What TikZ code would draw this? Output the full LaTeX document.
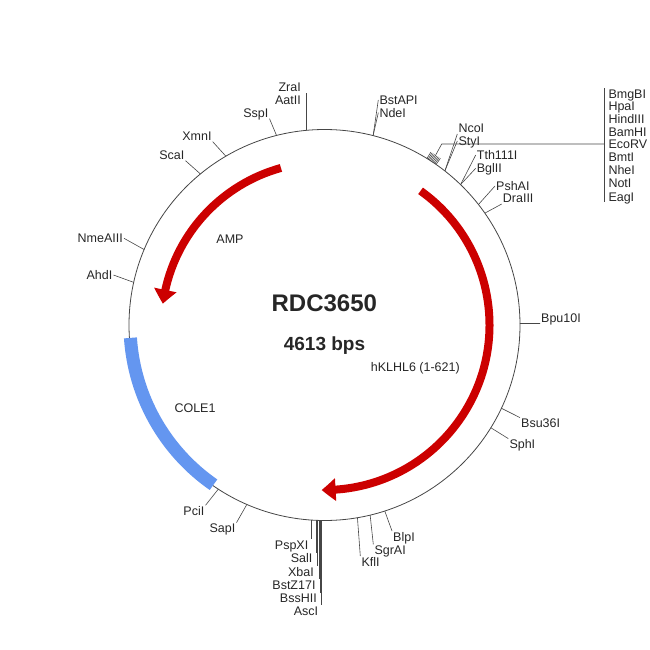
\documentclass[tikz,border=0pt]{standalone}
\usepackage{fontspec}
\setmainfont{Liberation Sans}
\usetikzlibrary{arrows.meta,bending}
\definecolor{mapline}{RGB}{70,70,70}
\definecolor{ampred}{RGB}{204,0,0}
\definecolor{oriblue}{RGB}{100,150,240}
\begin{document}
\begin{tikzpicture}[x=1pt,y=-1pt]
  \tikzstyle{every node}+=[inner sep=1pt, text=black!85, font=\fontsize{12.5}{14}\selectfont]
  \tikzstyle{lab}=[text height=9pt, text depth=0pt]
  \tikzstyle{site}=[mapline, line width=0.6pt]
  \tikzstyle{gene}=[ampred, line width=8pt, -{Triangle[width=22pt,length=14pt,bend]}]
  \useasboundingbox (0,0) rectangle (650,650);
  \coordinate (c) at (324.5,325);
  \draw [mapline, line width=0.8pt] (c) circle [radius=195.5pt];
  \draw [oriblue, line width=13pt] (c) ++(183.8:194.5pt) arc [start angle=183.8, end angle=235.2, radius=194.5pt];
  \draw [gene] (c) ++(105.5:163pt) arc [start angle=105.5, end angle=172.5, radius=163pt];
  \draw [gene] (c) ++(54.4:165pt) arc [start angle=54.4, end angle=-91, radius=165pt];
  \foreach \n/\a in {ZraI/95.2, SspI/104.2, XmnI/120.3, ScaI/129.4, NmeAIII/157.3, AhdI/167.4,
      PciI/237.1, SapI/246.6, PspXI/266.04, SalI/267.6, XbaI/268.0, BstZ17I/268.36,
      BssHII/268.74, AscI/269.12, KflI/279.7, SgrAI/283.5, BlpI/287.95, SphI/328.3,
      Bsu36I/334.8, Bpu10I/0.44, DraIII/34.9, PshAI/38.05, Tth/45.9, NcoI/52.0, NdeI/75.6}
    \path (c) ++(\a:195.5pt) coordinate (t\n);
  \path (c) ++(56.8:203pt) coordinate (tclu);
  \coordinate (hub) at (441.7,144);
  \node [anchor=base, font=\bfseries\fontsize{24}{28}\selectfont] (name) at (324.3,311.7) {RDC3650};
  \node [anchor=base, font=\bfseries\fontsize{19}{22}\selectfont] (size) at (324.5,350) {4613 bps};
  \node [lab] (amp) at (230,239) {AMP};
  \node [lab] (hklhl) at (415.3,367.3) {hKLHL6 (1-621)};
  \node [lab] (cole) at (195,408.3) {COLE1};
  \node [lab, anchor=east] (ZraI) at (302,87) {ZraI};
  \node [lab, anchor=east] (AatII) at (302,100.5) {AatII};
  \node [lab, anchor=east] (SspI) at (269.5,113) {SspI};
  \node [lab, anchor=east] (XmnI) at (212.7,136) {XmnI};
  \node [lab, anchor=east] (ScaI) at (185.5,155) {ScaI};
  \node [lab, anchor=east] (NmeAIII) at (124,238.3) {NmeAIII};
  \node [lab, anchor=east] (AhdI) at (113.5,275) {AhdI};
  \node [lab, anchor=east] (PciI) at (205.5,511) {PciI};
  \node [lab, anchor=east] (SapI) at (236.5,528.3) {SapI};
  \node [lab, anchor=east] (PspXI) at (309.5,545) {PspXI};
  \node [lab, anchor=east] (SalI) at (313.5,558.3) {SalI};
  \node [lab, anchor=east] (XbaI) at (315,571.7) {XbaI};
  \node [lab, anchor=east] (BstZ17I) at (316.7,585) {BstZ17I};
  \node [lab, anchor=east] (BssHII) at (318,598.3) {BssHII};
  \node [lab, anchor=east] (AscI) at (319.3,610.7) {AscI};
  \node [lab, anchor=west] (KflI) at (360.3,561.7) {KflI};
  \node [lab, anchor=west] (SgrAI) at (373.3,550) {SgrAI};
  \node [lab, anchor=west] (BlpI) at (392,536.7) {BlpI};
  \node [lab, anchor=west] (SphI) at (508.3,444.3) {SphI};
  \node [lab, anchor=west] (Bsu36I) at (520,423.3) {Bsu36I};
  \node [lab, anchor=south west] (Bpu10I) at (540,323.5) {Bpu10I};
  \node [lab, anchor=west] (DraIII) at (501.7,198.3) {DraIII};
  \node [lab, anchor=west] (PshAI) at (495,186) {PshAI};
  \node [lab, anchor=west] (Tth111I) at (475.7,155) {Tth111I};
  \node [lab, anchor=west] (BglII) at (475.7,168.3) {BglII};
  \node [lab, anchor=west] (NcoI) at (457.3,128.3) {NcoI};
  \node [lab, anchor=west] (StyI) at (457.3,141) {StyI};
  \node [lab, anchor=west] (BstAPI) at (378.3,100) {BstAPI};
  \node [lab, anchor=west] (NdeI) at (378.3,112.7) {NdeI};
  \node [lab, anchor=west] (BmgBI) at (607.3,94) {BmgBI};
  \node [lab, anchor=west] (HpaI) at (607.3,106) {HpaI};
  \node [lab, anchor=west] (HindIII) at (607.3,119.3) {HindIII};
  \node [lab, anchor=west] (BamHI) at (607.3,131.7) {BamHI};
  \node [lab, anchor=west] (EcoRV) at (607.3,144) {EcoRV};
  \node [lab, anchor=west] (BmtI) at (607.3,157.3) {BmtI};
  \node [lab, anchor=west] (NheI) at (607.3,170) {NheI};
  \node [lab, anchor=west] (NotI) at (607.3,183.3) {NotI};
  \node [lab, anchor=west] (EagI) at (607.3,196.7) {EagI};
  \draw [site] (tZraI) -- (tZraI |- ZraI.south);
  \draw [site] (tSspI) -- (SspI.south east);
  \draw [site] (tXmnI) -- (XmnI.south east);
  \draw [site] (tScaI) -- (ScaI.south east);
  \draw [site] (tNmeAIII) -- (NmeAIII.east);
  \draw [site] (tAhdI) -- (AhdI.east);
  \draw [site] (tPciI) -- (PciI.north east);
  \draw [site] (tSapI) -- (SapI.north east);
  \draw [site] (tPspXI) -- (tPspXI |- PspXI.north);
  \draw [site] (tSalI) -- (tSalI |- SalI.north);
  \draw [site] (tXbaI) -- (tXbaI |- XbaI.north);
  \draw [site] (tBstZ17I) -- (tBstZ17I |- BstZ17I.north);
  \draw [site] (tBssHII) -- (tBssHII |- BssHII.north);
  \draw [site] (tAscI) -- (tAscI |- AscI.north);
  \draw [site] (tKflI) -- (KflI.north west);
  \draw [site] (tSgrAI) -- (SgrAI.north west);
  \draw [site] (tBlpI) -- (BlpI.north west);
  \draw [site] (tSphI) -- (SphI.north west);
  \draw [site] (tBsu36I) -- (Bsu36I.north west);
  \draw [site] (tBpu10I) -- (Bpu10I.south west);
  \draw [site] (tDraIII) -- (DraIII.south west);
  \draw [site] (tPshAI) -- (PshAI.west);
  \draw [site] (tTth) -- (Tth111I.west);
  \draw [site] (tTth) -- (BglII.west);
  \draw [site] (tNcoI) -- (NcoI.south west);
  \draw [site] (tNcoI) -- (StyI.west);
  \draw [site] (tNdeI) -- (BstAPI.west);
  \draw [site] (tNdeI) -- (NdeI.west);
  \foreach \a in {55.2,55.6,56.0,56.4,56.8,57.2,57.6,58.0,58.4}
    \draw [site] (c) ++(\a:195.5pt) -- ++(\a:7.5pt);
  \draw [site] (tclu) -- (hub) -- ([xshift=-3pt]EcoRV.west);
  \draw [site] ([xshift=-3pt]BmgBI.north west) -- ([xshift=-3pt]EagI.south west);
\end{tikzpicture}
\end{document}
